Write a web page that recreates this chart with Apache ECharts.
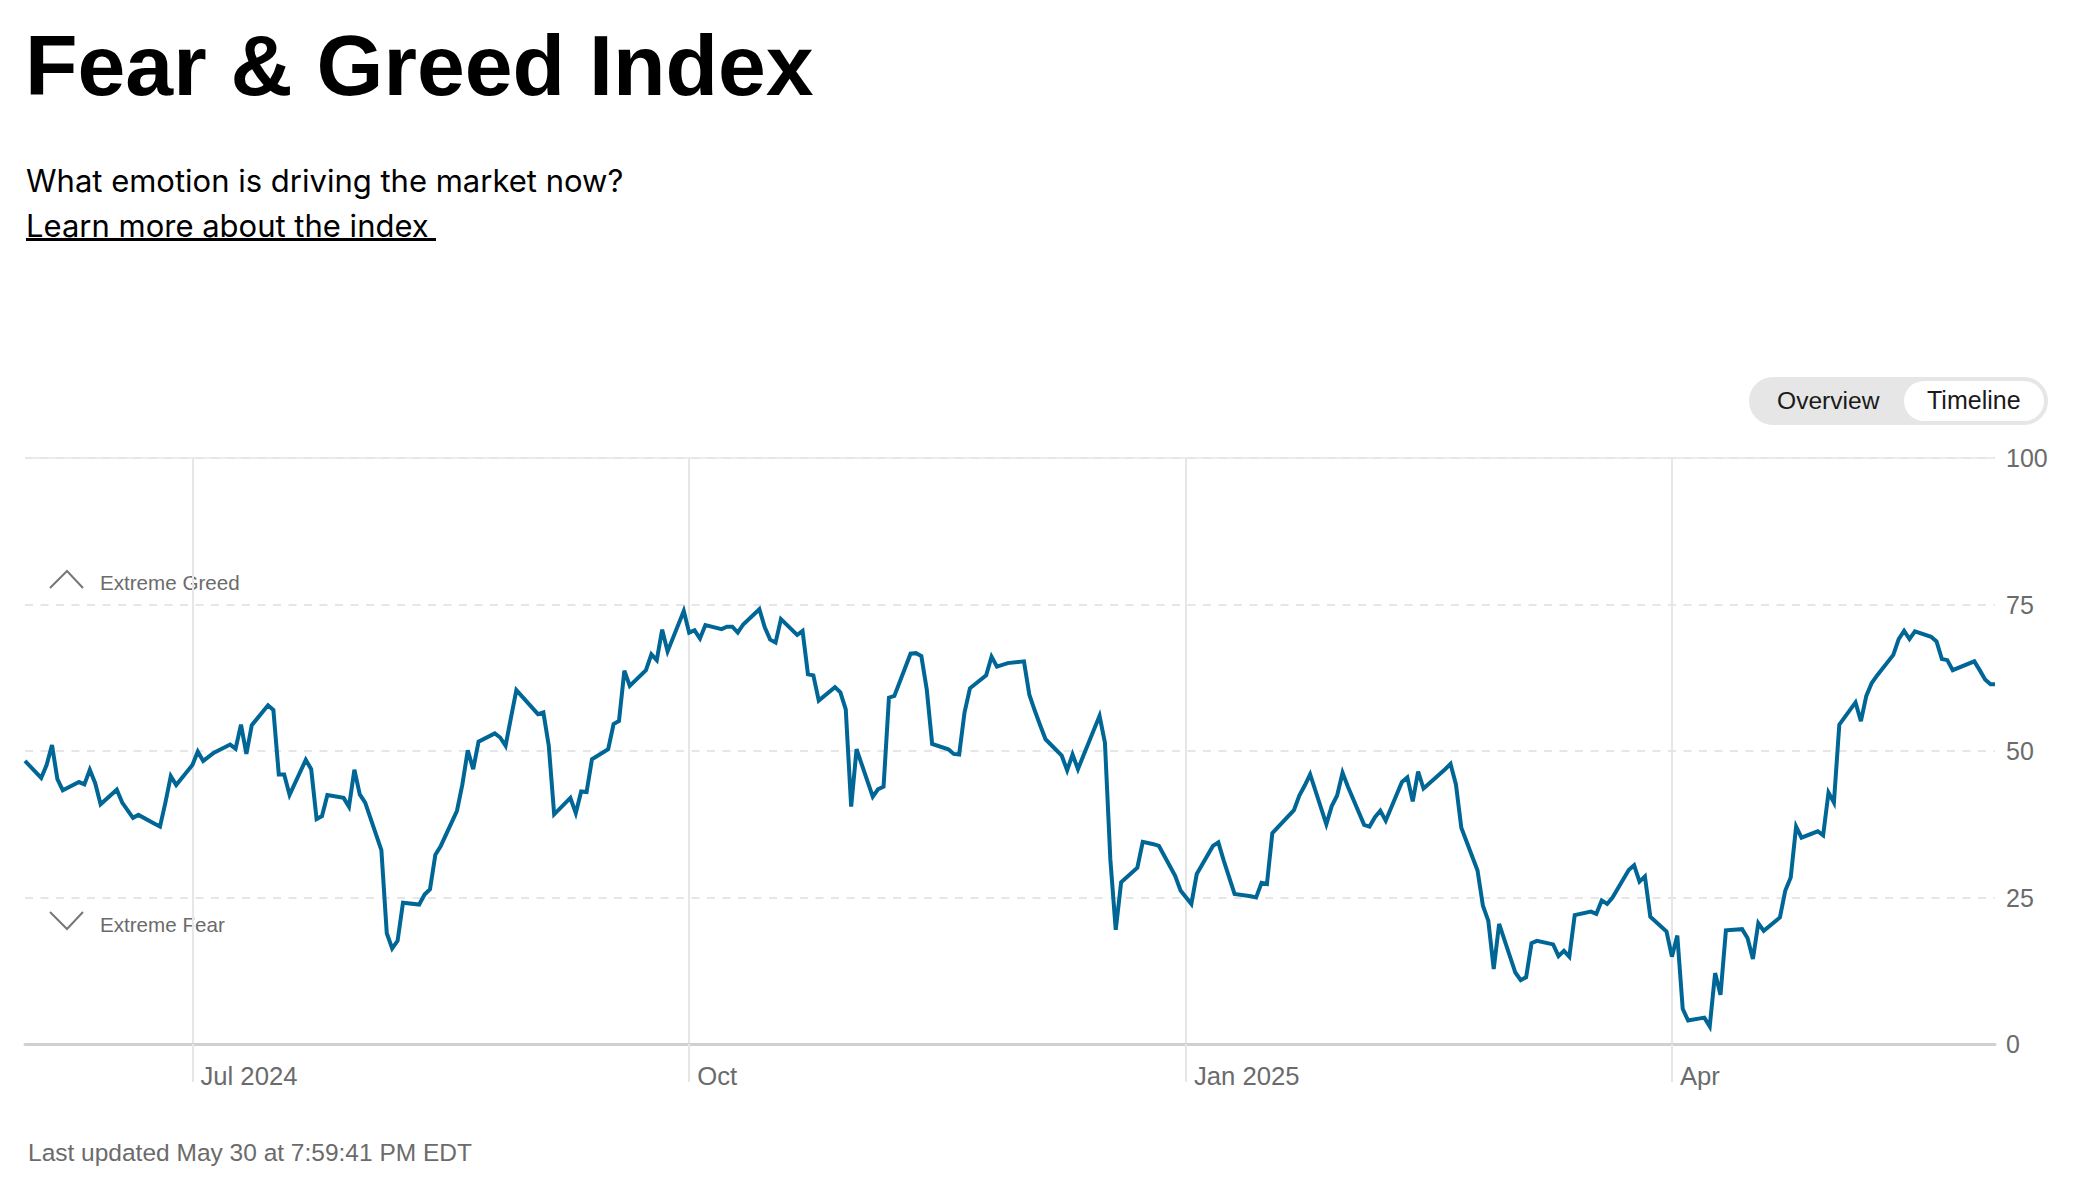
<!DOCTYPE html>
<html>
<head>
<meta charset="utf-8">
<title>Fear & Greed Index</title>
<script src="https://cdn.jsdelivr.net/npm/echarts@6/dist/echarts.min.js"></script>
<style>
  html, body { margin: 0; padding: 0; background: #fff; }
  #chart-container { width: 2096px; height: 1181px; }
</style>
</head>
<body>
<div id="chart-container"></div>
<script>
const dates = [
  '2024-05-31','2024-06-03','2024-06-04','2024-06-05','2024-06-06','2024-06-07','2024-06-10','2024-06-11','2024-06-12','2024-06-13','2024-06-14','2024-06-17','2024-06-18','2024-06-20','2024-06-21','2024-06-24','2024-06-25','2024-06-26','2024-06-27','2024-06-28',
  '2024-07-01','2024-07-02','2024-07-03','2024-07-05','2024-07-08','2024-07-09','2024-07-10','2024-07-11','2024-07-12','2024-07-15','2024-07-16','2024-07-17','2024-07-18','2024-07-19','2024-07-22','2024-07-23','2024-07-24','2024-07-25','2024-07-26','2024-07-29','2024-07-30','2024-07-31',
  '2024-08-01','2024-08-02','2024-08-05','2024-08-06','2024-08-07','2024-08-08','2024-08-09','2024-08-12','2024-08-13','2024-08-14','2024-08-15','2024-08-16','2024-08-19','2024-08-20','2024-08-21','2024-08-22','2024-08-23','2024-08-26','2024-08-27','2024-08-28','2024-08-29','2024-08-30',
  '2024-09-03','2024-09-04','2024-09-05','2024-09-06','2024-09-09','2024-09-10','2024-09-11','2024-09-12','2024-09-13','2024-09-16','2024-09-17','2024-09-18','2024-09-19','2024-09-20','2024-09-23','2024-09-24','2024-09-25','2024-09-26','2024-09-27','2024-09-30',
  '2024-10-01','2024-10-02','2024-10-03','2024-10-04','2024-10-07','2024-10-08','2024-10-09','2024-10-10','2024-10-11','2024-10-14','2024-10-15','2024-10-16','2024-10-17','2024-10-18','2024-10-21','2024-10-22','2024-10-23','2024-10-24','2024-10-25','2024-10-28','2024-10-29','2024-10-30','2024-10-31',
  '2024-11-01','2024-11-04','2024-11-05','2024-11-06','2024-11-07','2024-11-08','2024-11-11','2024-11-12','2024-11-13','2024-11-14','2024-11-15','2024-11-18','2024-11-19','2024-11-20','2024-11-21','2024-11-22','2024-11-25','2024-11-26','2024-11-27','2024-11-29',
  '2024-12-02','2024-12-03','2024-12-04','2024-12-05','2024-12-06','2024-12-09','2024-12-10','2024-12-11','2024-12-12','2024-12-13','2024-12-16','2024-12-17','2024-12-18','2024-12-19','2024-12-20','2024-12-23','2024-12-24','2024-12-26','2024-12-27','2024-12-30','2024-12-31',
  '2025-01-02','2025-01-03','2025-01-06','2025-01-07','2025-01-08','2025-01-10','2025-01-13','2025-01-14','2025-01-15','2025-01-16','2025-01-17','2025-01-21','2025-01-22','2025-01-23','2025-01-24','2025-01-27','2025-01-28','2025-01-29','2025-01-30','2025-01-31',
  '2025-02-03','2025-02-04','2025-02-05','2025-02-06','2025-02-07','2025-02-10','2025-02-11','2025-02-12','2025-02-13','2025-02-14','2025-02-18','2025-02-19','2025-02-20','2025-02-21','2025-02-24','2025-02-25','2025-02-26','2025-02-27','2025-02-28',
  '2025-03-03','2025-03-04','2025-03-05','2025-03-06','2025-03-07','2025-03-10','2025-03-11','2025-03-12','2025-03-13','2025-03-14','2025-03-17','2025-03-18','2025-03-19','2025-03-20','2025-03-21','2025-03-24','2025-03-25','2025-03-26','2025-03-27','2025-03-28','2025-03-31',
  '2025-04-01','2025-04-02','2025-04-03','2025-04-04','2025-04-07','2025-04-08','2025-04-09','2025-04-10','2025-04-11','2025-04-14','2025-04-15','2025-04-16','2025-04-17','2025-04-18','2025-04-21','2025-04-22','2025-04-23','2025-04-24','2025-04-25','2025-04-28','2025-04-29','2025-04-30',
  '2025-05-01','2025-05-02','2025-05-05','2025-05-06','2025-05-07','2025-05-08','2025-05-09','2025-05-12','2025-05-13','2025-05-14','2025-05-15','2025-05-16','2025-05-19','2025-05-20','2025-05-21','2025-05-22','2025-05-23','2025-05-27','2025-05-28','2025-05-29','2025-05-30','2025-05-30 19:59'
];
const values = [
  48.3,45.4,47.6,51.0,45.2,43.3,44.7,44.3,46.8,44.5,40.9,43.4,41.2,38.6,39.1,37.6,37.1,41.2,45.7,44.2,
  47.6,49.9,48.3,49.7,51.1,50.4,54.5,49.5,54.4,57.8,57.0,46.0,46.0,42.5,48.5,46.9,38.4,38.9,42.5,42.0,40.5,46.8,
  42.6,41.2,33.1,18.9,16.3,17.6,24.1,23.8,25.5,26.4,32.3,33.8,39.8,44.3,50.1,46.9,51.6,53.0,52.3,50.9,55.7,60.4,
  56.3,56.6,50.9,39.2,42.0,39.4,43.1,43.0,48.6,50.3,54.6,55.1,63.7,61.1,63.8,66.5,65.5,70.7,67.0,73.9,
  70.2,70.6,69.2,71.5,70.8,71.2,71.2,70.2,71.6,74.2,71.1,69.0,68.5,72.5,69.8,70.5,63.1,62.9,58.6,60.9,60.0,57.1,40.5,
  50.3,42.2,43.5,43.9,59.1,59.4,66.6,66.7,66.2,60.5,51.2,50.3,49.5,49.4,56.6,60.7,62.9,66.1,64.4,65.0,
  65.3,59.6,56.9,54.4,52.0,49.2,46.7,49.4,46.9,49.2,56.0,51.4,31.5,19.5,27.6,30.1,34.5,34.1,33.8,28.7,26.2,
  23.9,29.0,33.8,34.4,31.3,25.6,25.2,25.0,27.5,27.3,36.0,39.9,42.4,44.1,46.0,37.5,40.6,42.4,46.3,43.9,
  37.4,37.1,38.7,39.8,38.1,44.7,45.5,41.4,46.5,43.6,46.9,47.8,44.3,36.9,29.6,23.6,21.0,12.8,20.5,
  12.2,10.9,11.4,17.2,17.6,17.0,15.0,15.9,14.9,22.0,22.6,22.2,24.5,23.9,25.0,29.7,30.5,27.7,28.6,21.7,19.2,
  14.9,18.5,6.0,4.0,4.5,3.0,12.1,8.4,19.4,19.6,18.1,14.5,20.6,19.3,21.6,26.2,28.4,37.1,35.2,36.3,35.6,42.9,
  41.2,54.5,58.3,55.1,59.4,61.6,62.9,66.4,69.1,70.5,69.1,70.4,69.5,68.7,65.7,65.5,63.8,65.3,63.8,62.2,61.4,61.4
];
const tickDates = ['2024-07-01', '2024-10-01', '2025-01-01', '2025-04-01'];
const tickLabels = ['Jul 2024', 'Oct', 'Jan 2025', 'Apr'];
const axisStart = '2024-05-31';
const axisEnd = '2025-05-30 19:59';
const scoreTicks = [0, 25, 50, 75, 100];

const FONT = '"Liberation Sans", Arial, sans-serif';
const GRID_COLOR = '#e6e6e6';
const MUTED = '#6b6b6b';

const toTime = d => +echarts.time.parse(d);
const tickTimes = tickDates.map(toTime);

function label(x, y, text, size, color, weight, family) {
  return {
    type: 'text',
    silent: true,
    x: x,
    y: y,
    style: {
      text: text,
      fontFamily: family || FONT,
      fontSize: size,
      fontWeight: weight || 'normal',
      fill: color,
      verticalAlign: 'middle'
    }
  };
}

function chevron(points) {
  return {
    type: 'polyline',
    silent: true,
    shape: { points: points },
    style: { stroke: '#777', lineWidth: 2, fill: null }
  };
}

var dom = document.getElementById('chart-container');
var myChart = echarts.init(dom, null, { renderer: 'svg' });

var option = {
  animation: false,
  backgroundColor: '#fff',
  grid: { left: 25, right: 101, top: 458, bottom: 137 },
  xAxis: {
    type: 'value',
    min: toTime(axisStart),
    max: toTime(axisEnd),
    axisLine: { show: true, lineStyle: { color: '#d0d0d0', width: 3 } },
    axisTick: {
      show: true,
      length: 38,
      customValues: tickTimes,
      lineStyle: { color: GRID_COLOR, width: 2 }
    },
    axisLabel: {
      customValues: tickTimes,
      color: MUTED,
      fontFamily: FONT,
      fontSize: 25.7,
      align: 'left',
      margin: 19,
      padding: [0, 0, 0, 8],
      formatter: function (value) {
        return tickLabels[tickTimes.indexOf(+value)] || '';
      }
    },
    splitLine: {
      show: true,
      lineStyle: { color: GRID_COLOR, width: 2 }
    }
  },
  yAxis: {
    type: 'value',
    position: 'right',
    min: 0,
    max: 100,
    interval: 25,
    axisLine: { show: false },
    axisTick: { show: false },
    axisLabel: {
      color: MUTED,
      fontFamily: FONT,
      fontSize: 25,
      margin: 11,
      formatter: function (value) {
        return scoreTicks.indexOf(value) >= 0 ? String(value) : '';
      }
    },
    splitLine: {
      show: true,
      lineStyle: { color: GRID_COLOR, width: 2, type: [8, 7.5] }
    }
  },
  series: [
    {
      name: 'Fear & Greed',
      type: 'line',
      data: dates.map((d, i) => [toTime(d), values[i]]),
      showSymbol: false,
      symbol: 'none',
      smooth: false,
      lineStyle: { color: '#006696', width: 4, join: 'miter' },
      z: 5,
      markLine: {
        silent: true,
        symbol: 'none',
        label: { show: false },
        lineStyle: { color: GRID_COLOR, width: 1.5, type: 'solid' },
        data: [{ yAxis: 100 }]
      }
    }
  ],
  graphic: [
    label(25, 65, 'Fear & Greed Index', 86, '#000', 'bold'),
    label(26, 180, 'What emotion is driving the market now?', 31, '#000', 'normal', 'Inter'),
    label(26, 225, 'Learn more about the index', 31, '#000', 'normal', 'Inter'),
    { type: 'rect', silent: true, shape: { x: 26, y: 238, width: 410, height: 3 }, style: { fill: '#000' } },
    { type: 'rect', silent: true, shape: { x: 1749, y: 377, width: 299, height: 48, r: 24 }, style: { fill: '#e6e6e6' } },
    { type: 'rect', silent: true, shape: { x: 1904, y: 381, width: 140, height: 40, r: 20 }, style: { fill: '#fff' } },
    label(1777, 400, 'Overview', 24.6, '#1a1a1a'),
    label(1927, 400, 'Timeline', 25, '#1a1a1a'),
    chevron([[50, 588], [67, 571], [83, 588]]),
    label(100, 582, 'Extreme Greed', 20.6, MUTED),
    chevron([[50, 912], [67, 929], [83, 912]]),
    label(100, 924, 'Extreme Fear', 20.6, MUTED),
    label(28, 1152, 'Last updated May 30 at 7:59:41 PM EDT', 24.5, MUTED)
  ]
};

if (option && typeof option === 'object') {
  myChart.setOption(option);
}

window.addEventListener('resize', myChart.resize);
</script>
</body>
</html>
